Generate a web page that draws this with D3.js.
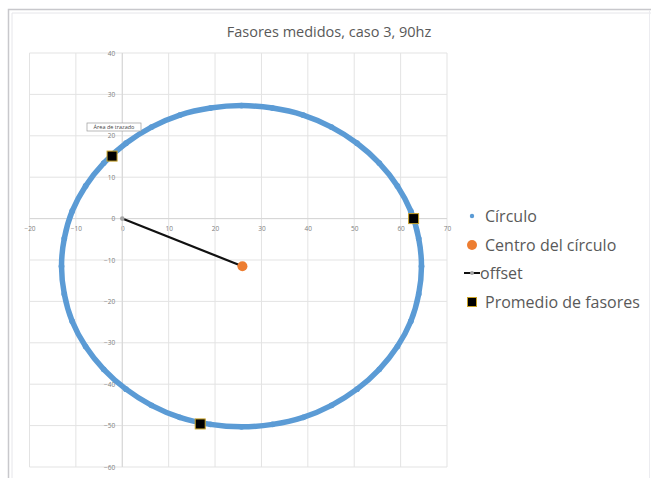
<!DOCTYPE html>
<html>
<head>
<meta charset="utf-8">
<script src="https://cdn.jsdelivr.net/npm/d3@7"></script>
<style>
  html, body { margin: 0; padding: 0; background: #ffffff; }
  svg { display: block; }
</style>
</head>
<body>
<svg id="chart" width="651" height="478"></svg>
<script>
// Measured points of the phasor circle (real, imaginary)
const circleX = [64.5, 63.9, 62.2, 59.3, 55.4, 50.6, 45.1, 39.0, 32.4, 25.7, 19.0, 12.4, 6.3, 0.8, -4.0, -7.9, -10.8, -12.5,
                 -13.1, -12.5, -10.8, -7.9, -4.0, 0.8, 6.3, 12.4, 19.0, 25.7, 32.4, 39.0, 45.1, 50.6, 55.4, 59.3, 62.2, 63.9];
const circleY = [-11.5, -4.8, 1.8, 7.9, 13.4, 18.2, 22.1, 25.0, 26.7, 27.3, 26.7, 25.0, 22.1, 18.2, 13.4, 7.9, 1.8, -4.8,
                 -11.5, -18.2, -24.8, -30.9, -36.4, -41.2, -45.1, -48.0, -49.7, -50.3, -49.7, -48.0, -45.1, -41.2, -36.4, -30.9, -24.8, -18.2];

// Fitted circle centre
const centerX = [25.9];
const centerY = [-11.5];

// Offset vector from the origin to the centre
const offsetX = [0, 25.9];
const offsetY = [0, -11.5];

// Averaged phasors
const avgX = [-2.2, 62.8, 16.8];
const avgY = [15.1, 0.0, -49.6];

// Axis ticks
const xTicks = [-20, -10, 0, 10, 20, 30, 40, 50, 60, 70];
const yTicks = [40, 30, 20, 10, 0, -10, -20, -30, -40, -50, -60];

const legendLabels = ["Círculo", "Centro del círculo", "offset", "Promedio de fasores"];

const svg = d3.select("#chart");
const FONT = "'Open Sans', 'Noto Sans', sans-serif";

// chart frame
svg.append("rect").attr("x", 8.5).attr("y", 9.5).attr("width", 650).attr("height", 480)
  .attr("fill", "#ffffff").attr("stroke", "#c8c8cc").attr("stroke-width", 1.5);
svg.append("line").attr("x1", 12).attr("x2", 12).attr("y1", 13).attr("y2", 478)
  .attr("stroke", "#e6e6ea").attr("stroke-width", 1);
svg.append("line").attr("x1", 12).attr("x2", 651).attr("y1", 13).attr("y2", 13)
  .attr("stroke", "#e6e6ea").attr("stroke-width", 1);
svg.append("line").attr("x1", 649.5).attr("x2", 649.5).attr("y1", 10).attr("y2", 478)
  .attr("stroke", "#ececf0").attr("stroke-width", 1);

const x = d3.scaleLinear().domain([-20, 70]).range([29.5, 447]);
const y = d3.scaleLinear().domain([-60, 40]).range([467, 53]);

// title
svg.append("text").attr("x", 329).attr("y", 37).attr("text-anchor", "middle")
  .attr("font-family", FONT).attr("font-size", 14.5).attr("fill", "#595959")
  .text("Fasores medidos, caso 3, 90hz");

// gridlines
const grid = svg.append("g");
grid.selectAll("line.v").data(xTicks).join("line")
  .attr("x1", d => x(d)).attr("x2", d => x(d)).attr("y1", y(40)).attr("y2", y(-60))
  .attr("stroke", "#e3e3e3").attr("stroke-width", 1);
grid.selectAll("line.h").data(yTicks).join("line")
  .attr("y1", d => y(d)).attr("y2", d => y(d)).attr("x1", x(-20)).attr("x2", x(70))
  .attr("stroke", "#e3e3e3").attr("stroke-width", 1);

// axes crossing at the origin
const xAxis = d3.axisBottom(x).tickValues(xTicks).tickSize(0).tickPadding(8);
const gx = svg.append("g").attr("transform", `translate(0,${y(0)})`).call(xAxis);
const yAxis = d3.axisLeft(y).tickValues(yTicks).tickSize(0).tickPadding(7);
const gy = svg.append("g").attr("transform", `translate(${x(0)},0)`).call(yAxis);
[gx, gy].forEach(g => {
  g.select(".domain").attr("stroke", "#d6d6d6");
  g.selectAll("text").attr("font-family", FONT).attr("font-size", 6.5).attr("fill", "#808080");
});
gy.select(".domain").attr("d", `M0,${y(40)}V${y(-60)}`);
gx.select(".domain").attr("d", `M${x(-20)},0H${x(70)}`);

// circle series: dense band of measured points
const pts = circleX.map((v, i) => [v, circleY[i]]);
const band = d3.line().x(d => x(d[0])).y(d => y(d[1])).curve(d3.curveCatmullRomClosed);
svg.append("path").attr("d", band(pts)).attr("fill", "none")
  .attr("stroke", "#5b9bd5").attr("stroke-width", 5.5);
svg.append("g").selectAll("circle").data(pts).join("circle")
  .attr("cx", d => x(d[0])).attr("cy", d => y(d[1])).attr("r", 2.9).attr("fill", "#5b9bd5");

// offset line
const off = offsetX.map((v, i) => [v, offsetY[i]]);
svg.append("path").attr("d", d3.line().x(d => x(d[0])).y(d => y(d[1]))(off))
  .attr("fill", "none").attr("stroke", "#111111").attr("stroke-width", 2.2);
svg.append("circle").attr("cx", x(offsetX[0])).attr("cy", y(offsetY[0])).attr("r", 2.3).attr("fill", "#a5a5a5");

// centre
svg.append("g").selectAll("circle").data(centerX).join("circle")
  .attr("cx", d => x(d)).attr("cy", (d, i) => y(centerY[i])).attr("r", 5).attr("fill", "#ed7d31");

// averaged phasors
svg.append("g").selectAll("rect").data(avgX).join("rect")
  .attr("x", d => x(d) - 5).attr("y", (d, i) => y(avgY[i]) - 5)
  .attr("width", 10).attr("height", 10)
  .attr("fill", "#000000").attr("stroke", "#c9a227").attr("stroke-width", 1);

// "Área de trazado" hover label
const tip = svg.append("g").attr("transform", "translate(87,123)");
tip.append("rect").attr("width", 54).attr("height", 8).attr("fill", "#ffffff")
  .attr("stroke", "#9a9a9a").attr("stroke-width", 0.7);
tip.append("text").attr("x", 27).attr("y", 6).attr("text-anchor", "middle")
  .attr("font-family", FONT).attr("font-size", 5.5).attr("fill", "#444")
  .text("Área de trazado");

// legend
const lg = svg.append("g").attr("transform", "translate(472,0)");
const rows = [216, 245, 273, 302];
const textStyle = s => s.attr("font-family", FONT).attr("font-size", 16).attr("fill", "#595959");
lg.append("circle").attr("cx", 0).attr("cy", rows[0]).attr("r", 2.2).attr("fill", "#5b9bd5");
lg.append("circle").attr("cx", 0).attr("cy", rows[1]).attr("r", 5).attr("fill", "#ed7d31");
lg.append("line").attr("x1", -8).attr("x2", 8).attr("y1", rows[2]).attr("y2", rows[2])
  .attr("stroke", "#111").attr("stroke-width", 2);
lg.append("circle").attr("cx", 0).attr("cy", rows[2]).attr("r", 2).attr("fill", "#a5a5a5");
lg.append("rect").attr("x", -4.5).attr("y", rows[3] - 4.5).attr("width", 9).attr("height", 9)
  .attr("fill", "#000").attr("stroke", "#c9a227").attr("stroke-width", 1);
lg.selectAll("text").data(legendLabels).join("text")
  .attr("x", (d, i) => i === 2 ? 8 : 13).attr("y", (d, i) => rows[i] + 5.5)
  .call(textStyle).text(d => d);
</script>
</body>
</html>
